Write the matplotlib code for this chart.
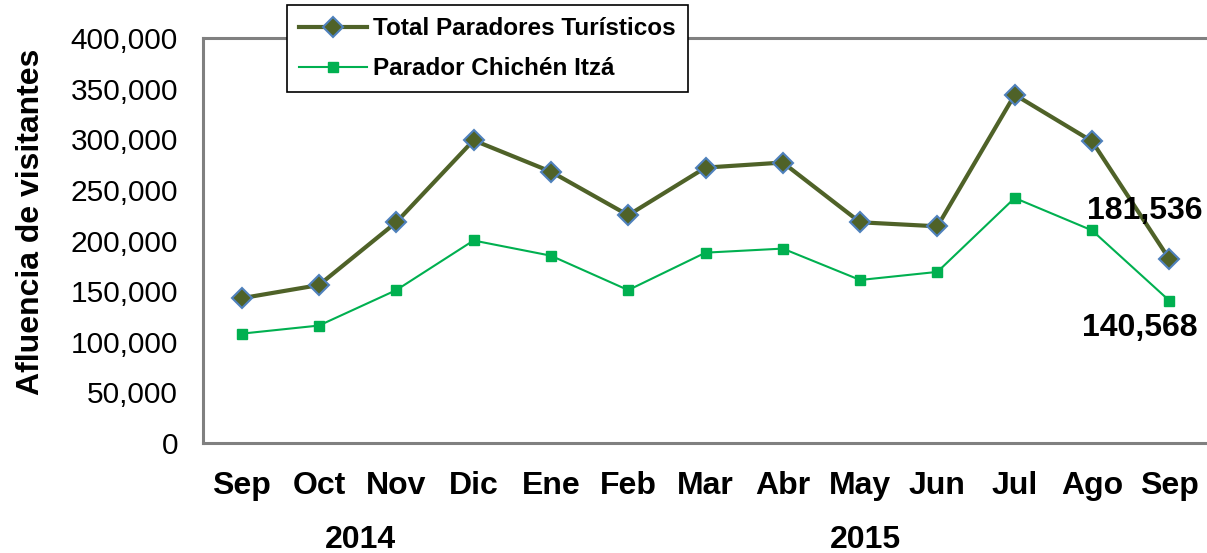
import matplotlib.pyplot as plt
from matplotlib.ticker import FuncFormatter

meses = ["Sep", "Oct", "Nov", "Dic", "Ene", "Feb", "Mar", "Abr", "May", "Jun", "Jul", "Ago", "Sep"]
total_paradores = [143000, 156000, 218000, 299000, 268000, 225000, 272000, 277000, 218000, 214000, 344000, 298000, 181536]
chichen_itza = [108000, 116000, 151000, 200000, 185000, 151000, 188000, 192000, 161000, 169000, 242000, 210000, 140568]
anios = ["2014", "2015"]

plt.rcParams['font.family'] = ['Liberation Sans', 'DejaVu Sans']

fig = plt.figure(figsize=(12.07, 5.53), dpi=100, facecolor="white")
ax = fig.add_axes([203 / 1207, 1 - 443 / 553, 1005 / 1207, 405 / 553])

x = list(range(len(meses)))
l1, = ax.plot(x, total_paradores, color="#4F6228", lw=3, marker="D", markersize=10,
              markerfacecolor="#4F6228", markeredgecolor="#4F81BD", markeredgewidth=1.5,
              label="Total Paradores Turísticos")
l2, = ax.plot(x, chichen_itza, color="#00B050", lw=1.5, marker="s", markersize=6.5,
              markerfacecolor="#00B050", markeredgecolor="#00B050",
              label="Parador Chichén Itzá")

ax.set_xlim(-0.5, len(meses) - 0.5)
ax.set_ylim(0, 400000)
ax.set_yticks(range(0, 400001, 50000))
ax.yaxis.set_major_formatter(FuncFormatter(lambda v, p: f"{int(v):,}"))
ax.set_xticks(x)
ax.set_xticklabels(meses, fontsize=23, fontweight="bold")
ax.tick_params(axis="y", length=0, pad=18, labelsize=21.5)
ax.tick_params(axis="x", length=0, pad=20)

for s in ax.spines.values():
    s.set_color("#808080")
    s.set_linewidth(2.2)

# etiquetas del ultimo mes
ax.annotate(f"{total_paradores[-1]:,}", (x[-1], total_paradores[-1]), xytext=(-18, 35),
            textcoords="offset points", ha="center", va="center", fontsize=23, fontweight="bold")
ax.annotate(f"{chichen_itza[-1]:,}", (x[-1], chichen_itza[-1]), xytext=(-21, -20),
            textcoords="offset points", ha="center", va="center", fontsize=23, fontweight="bold")

fig.text(31 / 1207, 1 - 222 / 553, "Afluencia de visitantes", rotation=90, ha="center", va="center",
         fontsize=23, fontweight="bold")
fig.text(360 / 1207, 1 - 540 / 553, anios[0], ha="center", va="center", fontsize=23, fontweight="bold")
fig.text(865 / 1207, 1 - 540 / 553, anios[1], ha="center", va="center", fontsize=23, fontweight="bold")

leg = fig.legend(handles=[l1, l2], loc="upper left", bbox_to_anchor=(287 / 1207, 1 - 5 / 553),
                 borderaxespad=0, frameon=True, fancybox=False, edgecolor="black", framealpha=1,
                 prop={"weight": "bold", "size": 17.5}, handlelength=2.8, borderpad=0.5,
                 labelspacing=0.7, handletextpad=0.25)
leg.get_frame().set_linewidth(1.2)

fig.savefig("out.png", dpi=100, facecolor="white")
